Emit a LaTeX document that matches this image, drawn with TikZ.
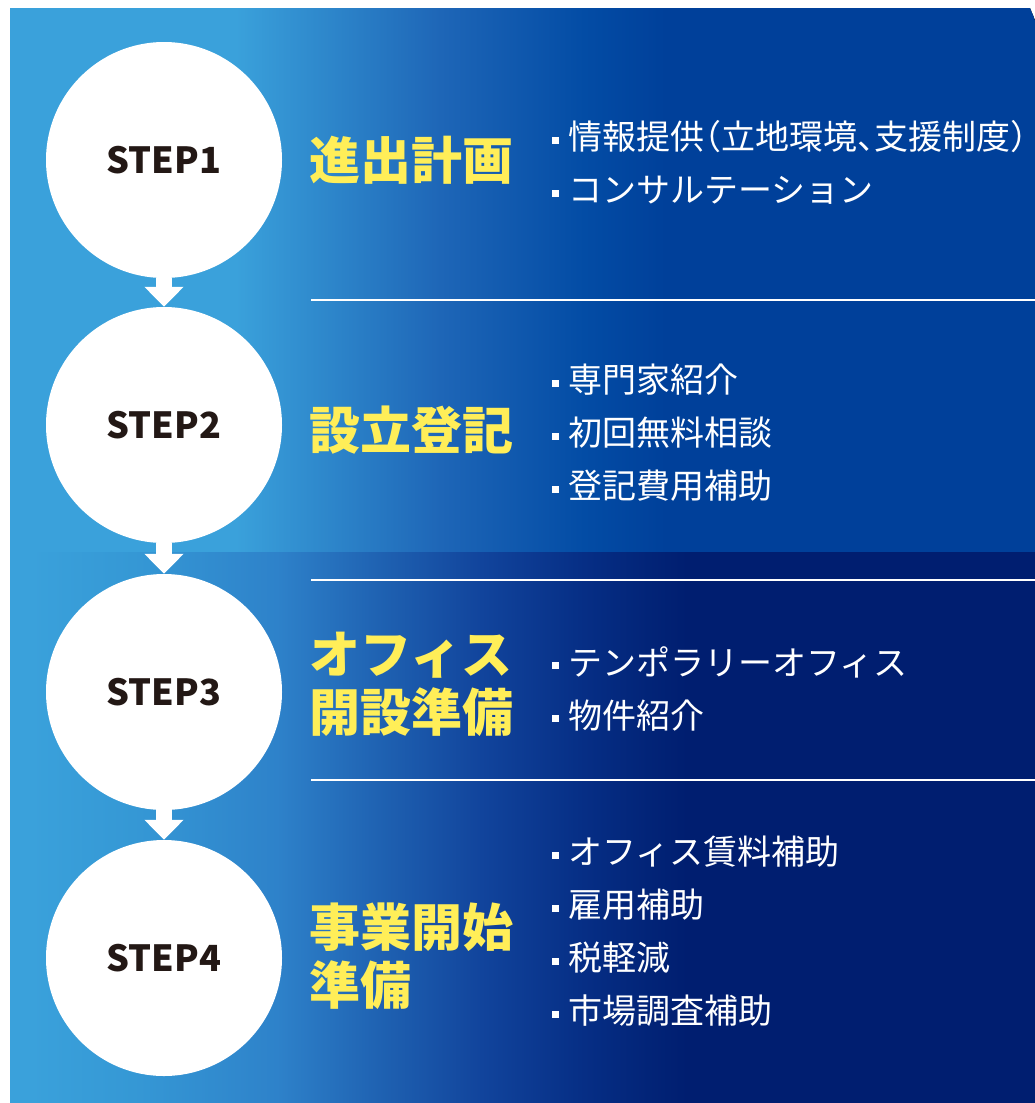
\documentclass[tikz,border=0pt]{standalone}
\usepackage{fontspec}
\setmainfont{Noto Sans CJK JP}
\definecolor{panelsky}{RGB}{58, 161, 219}
\definecolor{uppermid}{RGB}{30, 102, 183}
\definecolor{upperdeep1}{RGB}{3, 76, 165}
\definecolor{upperdeep}{RGB}{0, 64, 154}
\definecolor{lowersky1}{RGB}{53, 152, 213}
\definecolor{lowersky2}{RGB}{46, 130, 202}
\definecolor{lowermid1}{RGB}{31, 98, 178}
\definecolor{lowermid2}{RGB}{17, 68, 156}
\definecolor{lowerdeep1}{RGB}{6, 46, 133}
\definecolor{lowerdeep}{RGB}{0, 30, 112}
\definecolor{titleyellow}{RGB}{255, 238, 88}
\definecolor{stepink}{RGB}{35, 24, 21}
\usetikzlibrary{arrows.meta, positioning}
\pgfdeclarehorizontalshading{upperband}{100bp}{color(0bp)=(panelsky); color(36bp)=(panelsky); color(46bp)=(uppermid); color(53bp)=(upperdeep1); color(57bp)=(upperdeep); color(100bp)=(upperdeep)}
\pgfdeclarehorizontalshading{lowerband}{100bp}{color(0bp)=(panelsky); color(26bp)=(panelsky); color(31bp)=(lowersky1); color(38bp)=(lowersky2); color(43bp)=(lowermid1); color(48bp)=(lowermid2); color(53bp)=(lowerdeep1); color(58bp)=(lowerdeep); color(100bp)=(lowerdeep)}
\newcommand{\itemmark}{\rule[6pt]{7pt}{7pt}\hspace{9pt}}
\newcommand{\halfw}[1]{{\addfontfeature{RawFeature=+halt}#1}}

\begin{document}
\begin{tikzpicture}[x=1pt, y=-1pt,
    stepcircle/.style={circle, fill=white, minimum size=236pt, inner sep=0pt, text=stepink, font=\fontsize{36}{40}\selectfont\bfseries},
    steptitle/.style={anchor=west, inner sep=0pt, align=left, text=titleyellow, font=\fontsize{51}{58}\selectfont\bfseries},
    steplist/.style={anchor=west, inner sep=0pt, align=left, text=white, font=\fontsize{34}{53}\selectfont},
    divider/.style={draw=white, line width=2pt},
    flowarrow/.style={white, line width=16pt, -{Triangle[width=38pt, length=20pt]}}]
  \useasboundingbox (0,0) rectangle (1035,1103);
  \fill[white] (0,0) rectangle (1035,1103);

  % background bands
  \fill[shading=upperband] (10,8) -- (1030,8) -- (1035,20) -- (1035,552) -- (10,552) -- cycle;
  \fill[shading=lowerband] (10,552) rectangle (1035,1103);

  \draw[divider] (311,300) -- (1035,300);
  \draw[divider] (311,580) -- (1035,580);
  \draw[divider] (311,780) -- (1035,780);

  % steps
  \node[stepcircle] (step1) at (164,160) {STEP1};
  \node[stepcircle] (step2) at (164,425) {STEP2};
  \node[stepcircle] (step3) at (164,692) {STEP3};
  \node[stepcircle] (step4) at (164,958) {STEP4};

  \draw[flowarrow] (step1.south) -- (step2.north);
  \draw[flowarrow] (step2.south) -- (step3.north);
  \draw[flowarrow] (step3.south) -- (step4.north);

  \node[steptitle] (title1) at (309,160) {進出計画};
  \node[steptitle] (title2) at (309,430) {設立登記};
  \node[steptitle] (title3) at (309,684.5) {オフィス\\開設準備};
  \node[steptitle] (title4) at (309,956.5) {事業開始\\準備};

  \node[steplist] (list1) at (552,162.5) {\itemmark 情報提供\halfw{（}立地環境\halfw{、}支援制度\halfw{）}\\\itemmark コンサルテーション};
  \node[steplist] (list2) at (552,433) {\itemmark 専門家紹介\\\itemmark 初回無料相談\\\itemmark 登記費用補助};
  \node[steplist] (list3) at (552,688.5) {\itemmark テンポラリーオフィス\\\itemmark 物件紹介};
  \node[steplist] (list4) at (552,931.5) {\itemmark オフィス賃料補助\\\itemmark 雇用補助\\\itemmark 税軽減\\\itemmark 市場調査補助};
\end{tikzpicture}
\end{document}
